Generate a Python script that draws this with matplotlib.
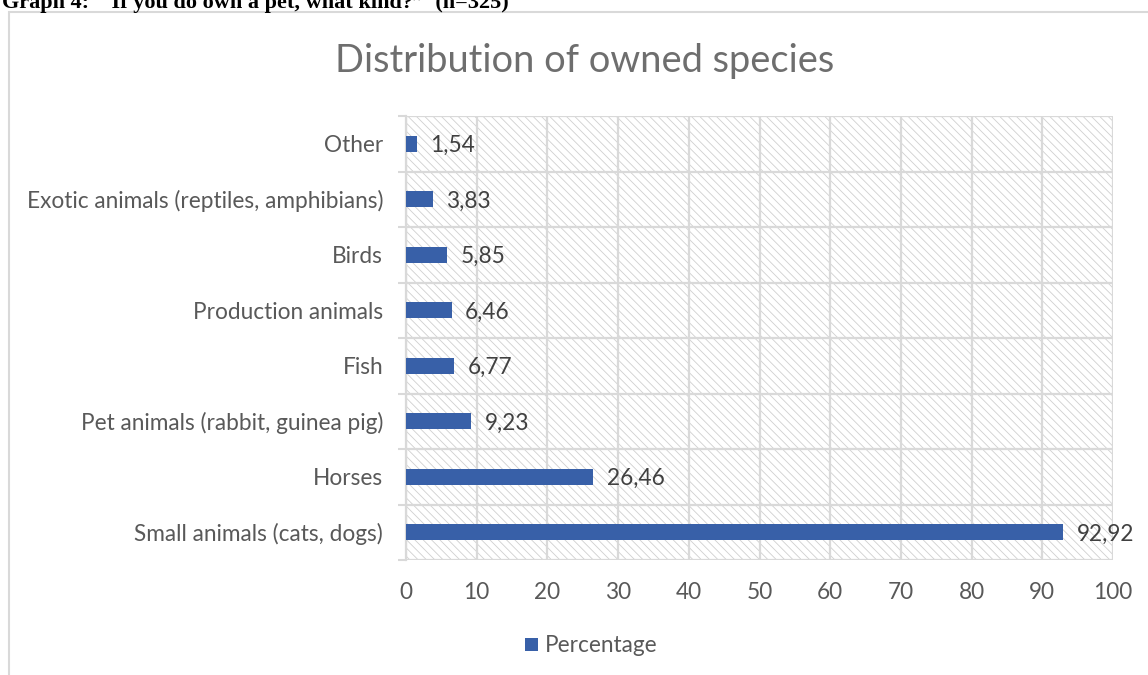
import matplotlib
matplotlib.use("Agg")
import matplotlib.pyplot as plt
from matplotlib.patches import Rectangle
import numpy as np

# Survey data: share of respondents owning each kind of animal (%)
categories = [
    "Small animals (cats, dogs)",
    "Horses",
    "Pet animals (rabbit, guinea pig)",
    "Fish",
    "Production animals",
    "Birds",
    "Exotic animals (reptiles, amphibians)",
    "Other",
]
percentages = [92.92, 26.46, 9.23, 6.77, 6.46, 5.85, 3.83, 1.54]
x_ticks = [0, 10, 20, 30, 40, 50, 60, 70, 80, 90, 100]

BAR = "#3860A8"
GRID = "#D9D9D9"
TEXT = "#595959"
FONT = ["Lato", "DejaVu Sans"]
FS = 16.3

plt.rcParams["font.family"] = FONT
plt.rcParams["hatch.color"] = "#D0D0D0"
plt.rcParams["hatch.linewidth"] = 0.6

W, H = 1148, 675
fig = plt.figure(figsize=(W / 100, H / 100), dpi=100)

# Caption line above the chart frame
fig.text(2 / W, 1 - 8 / H, "Graph 4:  \u201cIf you do own a pet, what kind?\u201d  (n=325)",
         family=["Liberation Serif"], fontweight="bold", fontsize=16,
         color="black", ha="left", va="baseline")

# Chart frame
fig.patches.append(Rectangle((9 / W, -0.01), 1.2, 1 - 12 / H + 0.01,
                             transform=fig.transFigure, fill=False,
                             edgecolor=GRID, linewidth=1.5))

ax = fig.add_axes([406 / W, 1 - 560 / H, (1113 - 406) / W, (560 - 116) / H])

# Hatched plot-area background
ax.add_patch(Rectangle((0, 0), 1, 1, transform=ax.transAxes, facecolor="white",
                       hatch="\\\\\\\\", edgecolor="#D0D0D0", linewidth=0, zorder=0))

y = np.arange(len(categories))
ax.barh(y, percentages, height=0.28, color=BAR, zorder=3)

for yi, v in zip(y, percentages):
    ax.text(v + 1.9, yi, f"{v:.2f}".replace(".", ","), va="center_baseline", ha="left",
            fontsize=FS, color="#404040", zorder=4)

ax.set_xlim(0, 100)
ax.set_ylim(-0.5, len(categories) - 0.5)
ax.set_xticks(x_ticks)
ax.set_xticklabels([str(t) for t in x_ticks])
ax.set_yticks(y)
ax.set_yticklabels(categories)
ax.set_yticks(np.arange(-0.5, len(categories), 1.0), minor=True)

ax.tick_params(axis="x", length=0, pad=16, labelsize=FS, labelcolor=TEXT)
ax.tick_params(axis="y", which="major", length=0, pad=16.5, labelsize=FS, labelcolor=TEXT)
ax.tick_params(axis="y", which="minor", length=6, width=1.5, color=GRID)

ax.grid(axis="x", which="major", color=GRID, linewidth=1.6, zorder=1)
ax.grid(axis="y", which="minor", color=GRID, linewidth=1.6, zorder=1)
ax.set_axisbelow(True)
for s in ax.spines.values():
    s.set_visible(False)
ax.spines["left"].set_visible(True)
ax.spines["left"].set_color(GRID)
ax.spines["left"].set_linewidth(1.6)

fig.text(585 / W, 1 - 61 / H, "Distribution of owned species", ha="center", va="center",
         fontsize=27.4, color="#6E6E6E")

# Legend
fig.patches.append(Rectangle((525 / W, 1 - 651 / H), 13 / W, 13 / H,
                             transform=fig.transFigure, facecolor=BAR, edgecolor="none"))
fig.text(545 / W, 1 - 645 / H, "Percentage", ha="left", va="center",
         fontsize=FS, color=TEXT)

fig.savefig("out.png", dpi=100)
